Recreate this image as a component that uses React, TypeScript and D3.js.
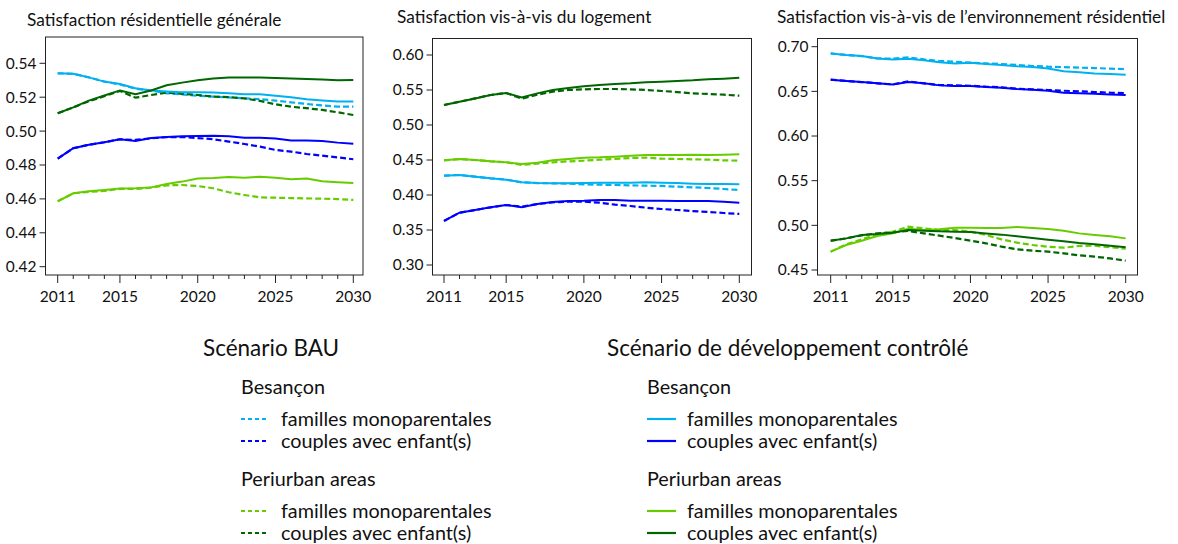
import React from 'react';
import * as d3 from 'd3';

const years = d3.range(2011, 2031);

const colors = {
  besFam: '#00b0f0',
  besCouple: '#0000ff',
  periFam: '#66cc00',
  periCouple: '#006600',
};

// Satisfaction résidentielle générale
const gen_besFam_cd = [0.5341, 0.5338, 0.5317, 0.5292, 0.5278, 0.5253, 0.5239, 0.5233, 0.5229, 0.5229, 0.5227, 0.5223, 0.5217, 0.5217, 0.5209, 0.5199, 0.5188, 0.5180, 0.5174, 0.5174];
const gen_besFam_bau = [0.5341, 0.5338, 0.5317, 0.5292, 0.5275, 0.5250, 0.5239, 0.5223, 0.5217, 0.5209, 0.5203, 0.5199, 0.5193, 0.5188, 0.5180, 0.5170, 0.5160, 0.5152, 0.5144, 0.5144];
const gen_besCouple_cd = [0.4838, 0.4899, 0.4919, 0.4934, 0.4952, 0.4942, 0.4959, 0.4965, 0.4969, 0.4971, 0.4973, 0.4969, 0.4961, 0.4961, 0.4956, 0.4944, 0.4944, 0.4942, 0.4932, 0.4926];
const gen_besCouple_bau = [0.4838, 0.4899, 0.4919, 0.4934, 0.4952, 0.4948, 0.4957, 0.4965, 0.4965, 0.4959, 0.4952, 0.4938, 0.4924, 0.4908, 0.4889, 0.4879, 0.4865, 0.4855, 0.4845, 0.4834];
const gen_periFam_cd = [0.4586, 0.4633, 0.4645, 0.4653, 0.4661, 0.4663, 0.4668, 0.4688, 0.4702, 0.4720, 0.4723, 0.4729, 0.4725, 0.4731, 0.4725, 0.4716, 0.4720, 0.4704, 0.4698, 0.4694];
const gen_periFam_bau = [0.4586, 0.4633, 0.4641, 0.4647, 0.4659, 0.4659, 0.4666, 0.4680, 0.4682, 0.4676, 0.4663, 0.4639, 0.4623, 0.4609, 0.4607, 0.4605, 0.4603, 0.4601, 0.4599, 0.4594];
const gen_periCouple_cd = [0.5105, 0.5140, 0.5180, 0.5210, 0.5240, 0.5217, 0.5240, 0.5270, 0.5286, 0.5300, 0.5310, 0.5316, 0.5316, 0.5316, 0.5313, 0.5310, 0.5308, 0.5305, 0.5300, 0.5302];
const gen_periCouple_bau = [0.5105, 0.5140, 0.5176, 0.5206, 0.5237, 0.5197, 0.5213, 0.5227, 0.5220, 0.5213, 0.5203, 0.5201, 0.5193, 0.5178, 0.5158, 0.5144, 0.5135, 0.5125, 0.5111, 0.5095];

// Satisfaction vis-à-vis du logement
const log_besFam_cd = [0.4276, 0.4286, 0.4262, 0.4238, 0.4219, 0.4181, 0.4171, 0.4167, 0.4167, 0.4171, 0.4176, 0.4176, 0.4176, 0.4181, 0.4176, 0.4171, 0.4162, 0.4157, 0.4157, 0.4152];
const log_besFam_bau = [0.4276, 0.4286, 0.4262, 0.4238, 0.4219, 0.4181, 0.4171, 0.4167, 0.4162, 0.4152, 0.4148, 0.4143, 0.4138, 0.4133, 0.4129, 0.4119, 0.4110, 0.4100, 0.4086, 0.4071];
const log_besCouple_cd = [0.3629, 0.3748, 0.3786, 0.3824, 0.3857, 0.3824, 0.3871, 0.3900, 0.3914, 0.3919, 0.3929, 0.3929, 0.3919, 0.3919, 0.3919, 0.3914, 0.3914, 0.3914, 0.3905, 0.3890];
const log_besCouple_bau = [0.3629, 0.3748, 0.3786, 0.3824, 0.3857, 0.3833, 0.3871, 0.3895, 0.3905, 0.3905, 0.3890, 0.3862, 0.3843, 0.3819, 0.3800, 0.3786, 0.3771, 0.3757, 0.3743, 0.3729];
const log_periFam_cd = [0.4495, 0.4514, 0.4500, 0.4481, 0.4467, 0.4443, 0.4462, 0.4495, 0.4514, 0.4533, 0.4538, 0.4548, 0.4562, 0.4571, 0.4571, 0.4571, 0.4576, 0.4571, 0.4576, 0.4581];
const log_periFam_bau = [0.4495, 0.4514, 0.4500, 0.4481, 0.4467, 0.4429, 0.4448, 0.4467, 0.4481, 0.4490, 0.4505, 0.4514, 0.4529, 0.4533, 0.4519, 0.4514, 0.4510, 0.4505, 0.4495, 0.4490];
const log_periCouple_cd = [0.5286, 0.5333, 0.5380, 0.5429, 0.5457, 0.5395, 0.5452, 0.5500, 0.5529, 0.5552, 0.5571, 0.5586, 0.5595, 0.5610, 0.5619, 0.5629, 0.5638, 0.5652, 0.5662, 0.5676];
const log_periCouple_bau = [0.5286, 0.5333, 0.5380, 0.5429, 0.5457, 0.5376, 0.5433, 0.5476, 0.5500, 0.5510, 0.5514, 0.5514, 0.5510, 0.5500, 0.5486, 0.5471, 0.5452, 0.5443, 0.5433, 0.5419];

// Satisfaction vis-à-vis de l'environnement résidentiel
const env_besFam_cd = [0.6925, 0.6907, 0.6895, 0.6869, 0.6858, 0.6866, 0.6847, 0.6825, 0.6813, 0.6821, 0.6806, 0.6795, 0.6780, 0.6772, 0.6757, 0.6724, 0.6713, 0.6701, 0.6694, 0.6687];
const env_besFam_bau = [0.6925, 0.6907, 0.6895, 0.6869, 0.6866, 0.6881, 0.6858, 0.6840, 0.6832, 0.6821, 0.6813, 0.6806, 0.6795, 0.6784, 0.6776, 0.6772, 0.6765, 0.6761, 0.6754, 0.6750];
const env_besCouple_cd = [0.6631, 0.6616, 0.6604, 0.6590, 0.6578, 0.6604, 0.6590, 0.6567, 0.6560, 0.6560, 0.6549, 0.6541, 0.6526, 0.6519, 0.6507, 0.6485, 0.6478, 0.6474, 0.6466, 0.6459];
const env_besCouple_bau = [0.6631, 0.6616, 0.6604, 0.6590, 0.6578, 0.6612, 0.6590, 0.6571, 0.6567, 0.6563, 0.6552, 0.6545, 0.6530, 0.6522, 0.6515, 0.6507, 0.6500, 0.6493, 0.6485, 0.6481];
const env_periFam_cd = [0.4705, 0.4780, 0.4828, 0.4881, 0.4910, 0.4963, 0.4948, 0.4955, 0.4974, 0.4974, 0.4970, 0.4970, 0.4981, 0.4970, 0.4959, 0.4940, 0.4910, 0.4892, 0.4877, 0.4854];
const env_periFam_bau = [0.4705, 0.4787, 0.4843, 0.4899, 0.4929, 0.4985, 0.4966, 0.4948, 0.4948, 0.4929, 0.4892, 0.4843, 0.4806, 0.4780, 0.4761, 0.4750, 0.4769, 0.4772, 0.4754, 0.4739];
const env_periCouple_cd = [0.4828, 0.4854, 0.4892, 0.4903, 0.4918, 0.4948, 0.4940, 0.4933, 0.4929, 0.4925, 0.4910, 0.4896, 0.4877, 0.4858, 0.4839, 0.4821, 0.4802, 0.4787, 0.4772, 0.4754];
const env_periCouple_bau = [0.4828, 0.4854, 0.4888, 0.4910, 0.4922, 0.4937, 0.4910, 0.4884, 0.4858, 0.4828, 0.4799, 0.4761, 0.4731, 0.4716, 0.4705, 0.4687, 0.4664, 0.4649, 0.4630, 0.4604];

const panels = [
  {
    title: 'Satisfaction résidentielle générale',
    titleX: 27, titleY: 26,
    frame: { x0: 45.5, x1: 363, y0: 37, y1: 275 },
    yDomain: [0.42, 0.54], yRange: [266.7, 63.3],
    xRange: [57.7, 353.3],
    yTicks: [0.42, 0.44, 0.46, 0.48, 0.50, 0.52, 0.54],
    series: [
      { key: 'besFam', bau: gen_besFam_bau, cd: gen_besFam_cd },
      { key: 'besCouple', bau: gen_besCouple_bau, cd: gen_besCouple_cd },
      { key: 'periFam', bau: gen_periFam_bau, cd: gen_periFam_cd },
      { key: 'periCouple', bau: gen_periCouple_bau, cd: gen_periCouple_cd },
    ],
  },
  {
    title: 'Satisfaction vis-à-vis du logement',
    titleX: 397, titleY: 23,
    frame: { x0: 432.5, x1: 751.5, y0: 38.5, y1: 275 },
    yDomain: [0.30, 0.60], yRange: [265, 55],
    xRange: [444, 739.3],
    yTicks: [0.30, 0.35, 0.40, 0.45, 0.50, 0.55, 0.60],
    series: [
      { key: 'besFam', bau: log_besFam_bau, cd: log_besFam_cd },
      { key: 'besCouple', bau: log_besCouple_bau, cd: log_besCouple_cd },
      { key: 'periFam', bau: log_periFam_bau, cd: log_periFam_cd },
      { key: 'periCouple', bau: log_periCouple_bau, cd: log_periCouple_cd },
    ],
  },
  {
    title: 'Satisfaction vis-à-vis de l’environnement résidentiel',
    titleX: 777, titleY: 23,
    frame: { x0: 817.5, x1: 1137.5, y0: 38.5, y1: 275 },
    yDomain: [0.45, 0.70], yRange: [270, 46.7],
    xRange: [830.7, 1125.7],
    yTicks: [0.45, 0.50, 0.55, 0.60, 0.65, 0.70],
    series: [
      { key: 'besFam', bau: env_besFam_bau, cd: env_besFam_cd },
      { key: 'besCouple', bau: env_besCouple_bau, cd: env_besCouple_cd },
      { key: 'periFam', bau: env_periFam_bau, cd: env_periFam_cd },
      { key: 'periCouple', bau: env_periCouple_bau, cd: env_periCouple_cd },
    ],
  },
];

const xTickLabels = [2011, 2015, 2020, 2025, 2030];

const FONT = 'Lato, "Open Sans", sans-serif';

function Panel({ p }: { p: typeof panels[number] }) {
  const x = d3.scaleLinear().domain([2011, 2030]).range(p.xRange);
  const y = d3.scaleLinear().domain(p.yDomain).range(p.yRange);
  const line = d3.line<number>().x((_, i) => x(years[i])).y(d => y(d));
  const f = p.frame;
  return (
    <g>
      <text x={p.titleX} y={p.titleY} fontSize={17.3} fill="#111" style={{ fontFamily: FONT }}>{p.title}</text>
      <rect x={f.x0} y={f.y0} width={f.x1 - f.x0} height={f.y1 - f.y0} fill="white" stroke="#222" strokeWidth={1} />
      {p.yTicks.map(t => (
        <g key={t}>
          <line x1={f.x0 - 6} x2={f.x0} y1={y(t)} y2={y(t)} stroke="#222" />
          <text x={f.x0 - 9} y={y(t)} dy="0.35em" textAnchor="end" fontSize={15.5} fill="#111" style={{ fontFamily: FONT }}>
            {t.toFixed(2)}
          </text>
        </g>
      ))}
      {years.map(yr => {
        const major = xTickLabels.includes(yr);
        return (
          <line key={yr} x1={x(yr)} x2={x(yr)} y1={f.y1} y2={f.y1 + (major ? 8 : 4)} stroke="#222" />
        );
      })}
      {xTickLabels.map(yr => (
        <text key={yr} x={x(yr)} y={302} textAnchor="middle" fontSize={15.5} fill="#111" style={{ fontFamily: FONT }}>{yr}</text>
      ))}
      {p.series.map(s => (
        <path key={s.key + 'bau'} d={line(s.bau) || ''} fill="none" stroke={colors[s.key as keyof typeof colors]} strokeWidth={2.2} strokeDasharray="6,3" />
      ))}
      {p.series.map(s => (
        <path key={s.key + 'cd'} d={line(s.cd) || ''} fill="none" stroke={colors[s.key as keyof typeof colors]} strokeWidth={2} />
      ))}
    </g>
  );
}

const legendGroups = [
  { title: 'Scénario BAU', dashed: true, x: 203, itemX: 241 },
  { title: 'Scénario de développement contrôlé', dashed: false, x: 607, itemX: 647 },
];
const legendSections = [
  { name: 'Besançon', items: [{ key: 'besFam', label: 'familles monoparentales' }, { key: 'besCouple', label: 'couples avec enfant(s)' }] },
  { name: 'Periurban areas', items: [{ key: 'periFam', label: 'familles monoparentales' }, { key: 'periCouple', label: 'couples avec enfant(s)' }] },
];

function Legend() {
  const sectionY = [387, 479];
  return (
    <g style={{ fontFamily: FONT }} fill="#111">
      {legendGroups.map(g => (
        <g key={g.title}>
          <text x={g.x} y={348} dy="0.35em" fontSize={22.5}>{g.title}</text>
          {legendSections.map((sec, si) => (
            <g key={sec.name}>
              <text x={g.itemX} y={sectionY[si]} dy="0.35em" fontSize={19.8}>{sec.name}</text>
              {sec.items.map((it, ii) => {
                const yy = sectionY[si] + 32 + ii * 22;
                return (
                  <g key={it.key}>
                    <line x1={g.itemX} x2={g.itemX + (g.dashed ? 27 : 29)} y1={yy} y2={yy}
                      stroke={colors[it.key as keyof typeof colors]} strokeWidth={2.2}
                      strokeDasharray={g.dashed ? '4,3' : undefined} />
                    <text x={g.itemX + 40} y={yy} dy="0.35em" fontSize={19.8}>{it.label}</text>
                  </g>
                );
              })}
            </g>
          ))}
        </g>
      ))}
    </g>
  );
}

export default function App() {
  return (
    <svg width={1178} height={544} style={{ position: 'absolute', left: 0, top: 0, background: 'white' }}>
      {panels.map(p => <Panel key={p.title} p={p} />)}
      <Legend />
    </svg>
  );
}
